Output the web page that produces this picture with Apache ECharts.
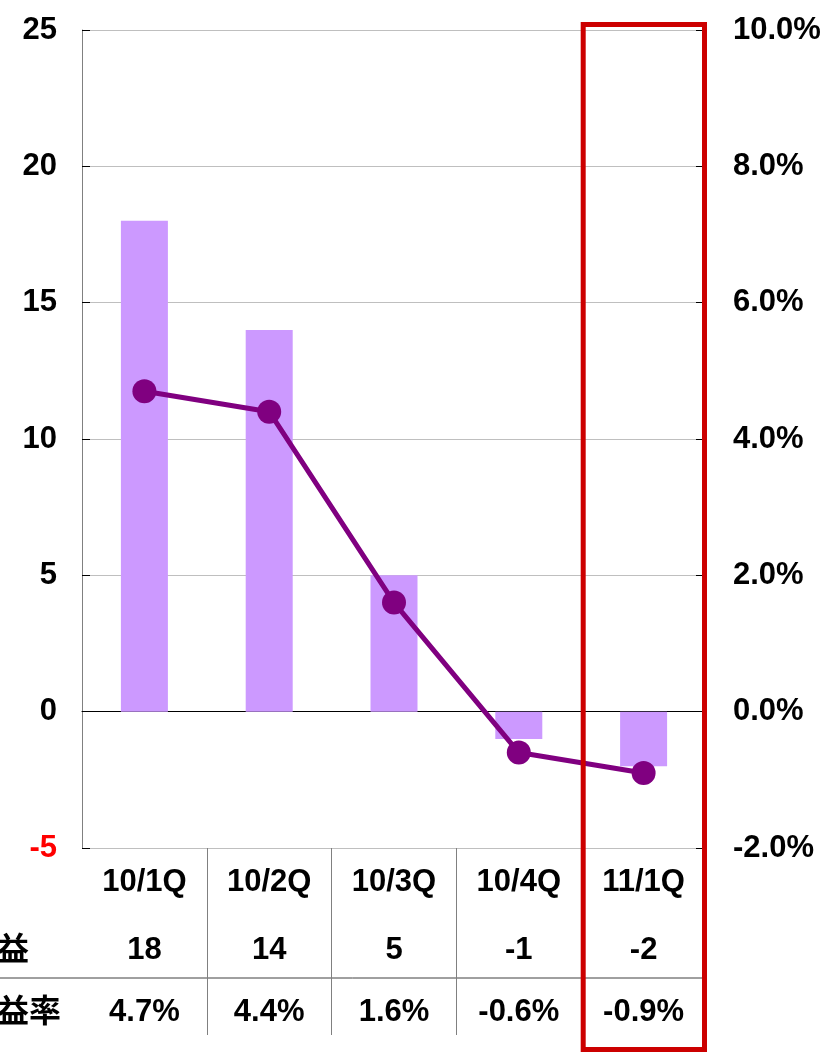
<!DOCTYPE html>
<html>
<head>
<meta charset="utf-8">
<script src="https://cdn.jsdelivr.net/npm/echarts@6/dist/echarts.min.js"></script>
<style>
  html, body { margin: 0; padding: 0; background: #fff; }
  #chart { width: 827px; height: 1052px; }
</style>
</head>
<body>
<div id="chart"></div>
<script>
const quarters = ['10/1Q', '10/2Q', '10/3Q', '10/4Q', '11/1Q']
const profit = [18, 14, 5, -1, -2]
const profitMargin = [4.7, 4.4, 1.6, -0.6, -0.9]
const rowLabels = ['営業利益', '営業利益率']
const profitAxis = { min: -5, max: 25, interval: 5 }
const marginAxis = { min: -2, max: 10, interval: 2 }
const highlightIndex = 4

const latin = '"Liberation Sans", Arial, sans-serif'
const cjk = '"Noto Sans CJK JP", sans-serif'
const labelBase = { color: '#000', fontFamily: latin, fontWeight: 'bold', fontSize: 31 }

const chart = echarts.init(document.getElementById('chart'))

const valueRow = (data, offset) => ({
  type: 'category',
  data: data,
  position: 'bottom',
  offset: offset,
  axisLine: { show: false, onZero: false },
  axisTick: { show: false },
  axisLabel: { ...labelBase, margin: 19, interval: 0 },
  splitLine: { show: false }
})

const option = {
  animation: false,
  backgroundColor: '#fff',
  grid: { left: 82, right: 121, top: 30, bottom: 204 },
  xAxis: [
    {
      type: 'category',
      data: quarters,
      position: 'bottom',
      axisLine: { show: false, onZero: false },
      axisTick: {
        show: true,
        length: 187,
        interval: (i) => i > 0,
        lineStyle: { color: '#808080', width: 1 }
      },
      axisLabel: { ...labelBase, margin: 19, interval: 0 },
      splitLine: { show: false }
    },
    valueRow(profit.map(v => String(v)), 68),
    valueRow(profitMargin.map(v => v.toFixed(1) + '%'), 130),
    {
      type: 'category',
      data: quarters,
      position: 'bottom',
      axisLine: { show: true, onZero: true, onZeroAxisIndex: 0, lineStyle: { color: '#000', width: 1 } },
      axisTick: { show: false },
      axisLabel: { show: false },
      splitLine: { show: false }
    }
  ],
  yAxis: [
    {
      type: 'value',
      ...profitAxis,
      position: 'left',
      axisLine: { show: true, lineStyle: { color: '#808080', width: 1 } },
      axisTick: { show: true, inside: true, length: 8, lineStyle: { color: '#000' } },
      axisLabel: {
        ...labelBase,
        margin: 25,
        color: (v) => Number(v) === profitAxis.min ? '#FF0000' : '#000'
      },
      splitLine: { show: true, lineStyle: { color: '#BFBFBF', width: 1 } }
    },
    {
      type: 'value',
      ...marginAxis,
      position: 'right',
      offset: -2,
      axisLine: { show: true, lineStyle: { color: '#000', width: 1 } },
      axisTick: { show: true, inside: true, length: 8, lineStyle: { color: '#000' } },
      axisLabel: {
        ...labelBase,
        margin: 29,
        formatter: (v) => v.toFixed(1) + '%'
      },
      splitLine: { show: false }
    }
  ],
  series: [
    {
      name: '営業利益',
      type: 'bar',
      xAxisIndex: 0,
      yAxisIndex: 0,
      data: profit,
      barWidth: 47,
      itemStyle: { color: '#CC99FF' }
    },
    {
      name: '営業利益率',
      type: 'line',
      xAxisIndex: 0,
      yAxisIndex: 1,
      data: profitMargin,
      symbol: 'circle',
      symbolSize: 24,
      lineStyle: { color: '#800080', width: 5 },
      itemStyle: { color: '#800080' },
      z: 5
    }
  ]
}

chart.setOption(option)

// table rule, row labels and highlight box, placed from the category scale
const c0 = chart.convertToPixel({ xAxisIndex: 0 }, quarters[0])
const c1 = chart.convertToPixel({ xAxisIndex: 0 }, quarters[1])
const band = c1 - c0
const hiCenter = chart.convertToPixel({ xAxisIndex: 0 }, quarters[highlightIndex])
const hiLeft = hiCenter - band / 2

chart.setOption({
  graphic: [
    {
      type: 'line',
      shape: { x1: 0, y1: 978, x2: hiLeft + band - 1, y2: 978 },
      style: { stroke: '#404040', lineWidth: 1 },
      silent: true
    },
    {
      type: 'text',
      x: 29, y: 948,
      style: {
        text: rowLabels[0], fill: '#000', font: 'bold 32px ' + cjk,
        textAlign: 'right', textVerticalAlign: 'middle'
      }
    },
    {
      type: 'text',
      x: 61, y: 1010,
      style: {
        text: rowLabels[1], fill: '#000', font: 'bold 32px ' + cjk,
        textAlign: 'right', textVerticalAlign: 'middle'
      }
    },
    {
      type: 'rect',
      shape: { x: hiLeft + 2, y: 24.5, width: band - 3.5, height: 1025 },
      style: { fill: 'none', stroke: '#CC0000', lineWidth: 5 },
      z: 100,
      silent: true
    }
  ]
})
</script>
</body>
</html>
